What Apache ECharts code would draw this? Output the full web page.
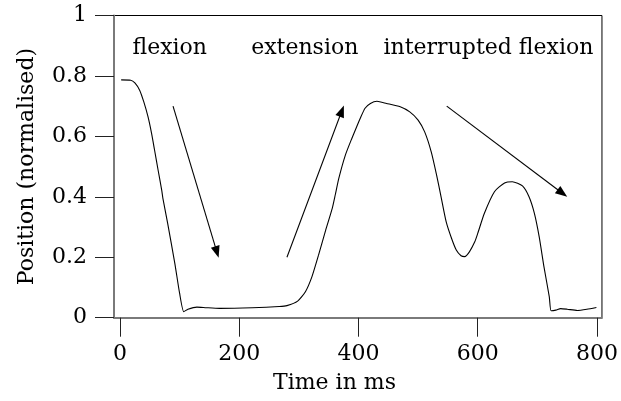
<!DOCTYPE html>
<html>
<head>
<meta charset="utf-8">
<script src="https://cdn.jsdelivr.net/npm/echarts@6/dist/echarts.min.js"></script>
<style>
  html, body { margin: 0; padding: 0; background: #fff; }
  #chart { width: 621px; height: 401px; }
</style>
</head>
<body>
<div id="chart"></div>
<script>
// Joint position trace over one movement cycle
const timeMs = [2, 18, 25, 33, 40, 47, 53, 58, 64, 70, 72, 80, 92, 100, 107, 114, 129, 145, 167, 222, 267,
  280, 298, 311, 322, 333, 345, 356, 361, 367, 378, 389, 397, 403, 411, 420, 431, 447, 470, 486, 500, 511,
  522, 531, 539, 547, 556, 564, 572, 578, 586, 595, 600, 611, 628, 645, 658, 675, 686, 695, 703, 711, 720,
  723, 731, 739, 750, 767, 783, 799];
const position = [0.787, 0.786, 0.777, 0.753, 0.714, 0.665, 0.610, 0.555, 0.488, 0.422, 0.395, 0.312, 0.180,
  0.081, 0.020, 0.028, 0.035, 0.033, 0.031, 0.033, 0.037,
  0.040, 0.055, 0.086, 0.136, 0.207, 0.290, 0.362, 0.406, 0.461, 0.538, 0.594, 0.632, 0.660, 0.693, 0.709,
  0.716, 0.709, 0.698, 0.681, 0.654, 0.615, 0.549, 0.472, 0.395, 0.318, 0.263, 0.224, 0.205, 0.202, 0.218,
  0.251, 0.279, 0.345, 0.417, 0.446, 0.450, 0.436, 0.400, 0.345, 0.268, 0.169, 0.069, 0.023, 0.025, 0.030,
  0.028, 0.024, 0.028, 0.034];

// Axis ticks
const xTicks = [0, 200, 400, 600, 800];
const yTicks = [0, 0.2, 0.4, 0.6, 0.8, 1];

// Phase labels (left edge of text, in data units)
const phaseNames = ['flexion', 'extension', 'interrupted flexion'];
const phaseX = [21, 220, 442];
const phaseY = [0.89, 0.89, 0.89];

// Direction arrows: start point and arrowhead centre, in data units
const arrowFrom = [[89, 0.70], [280, 0.20], [548, 0.70]];
const arrowTo = [[162.6, 0.217], [372, 0.684], [742, 0.412]];

const FONT = 'DejaVu Serif';
const FS = 22;

const chart = echarts.init(document.getElementById('chart'), null, { renderer: 'canvas' });

chart.setOption({
  animation: false,
  backgroundColor: '#fff',
  grid: {
    left: 114, right: 16, top: 15.5, bottom: 83.3,
    show: true, borderColor: '#000', borderWidth: 1, backgroundColor: 'transparent'
  },
  xAxis: {
    type: 'value', min: -10, max: 808.3,
    name: 'Time in ms', nameLocation: 'middle', nameGap: 55,
    nameTextStyle: { fontFamily: FONT, fontSize: FS, color: '#000', padding: [0, 47, 0, 0] },
    axisLine: { show: true, onZero: false, lineStyle: { color: '#7a7a7a', width: 2 } },
    axisTick: { show: true, inside: false, length: 19, customValues: xTicks, lineStyle: { color: '#222', width: 1 } },
    axisLabel: { customValues: xTicks, margin: 26, fontFamily: FONT, fontSize: FS, color: '#000' },
    splitLine: { show: false }
  },
  yAxis: {
    type: 'value', min: 0, max: 1,
    name: 'Position (normalised)', nameLocation: 'middle', nameGap: 76,
    nameTextStyle: { fontFamily: FONT, fontSize: FS, color: '#000' },
    axisLine: { show: true, onZero: false, lineStyle: { color: '#7a7a7a', width: 2 } },
    axisTick: { show: true, inside: false, length: 19, customValues: yTicks, lineStyle: { color: '#222', width: 1 } },
    axisLabel: { customValues: yTicks, margin: 27, fontFamily: FONT, fontSize: FS, color: '#000' },
    splitLine: { show: false }
  },
  series: [
    {
      type: 'line',
      data: timeMs.map((t, i) => [t, position[i]]),
      showSymbol: false,
      smooth: 0.2,
      lineStyle: { color: '#000', width: 1.1 },
      silent: true,
      markLine: {
        silent: true,
        symbol: ['none', 'path://M4.5 0 L9 12 L0 12 Z'],
        symbolKeepAspect: true,
        symbolSize: 12,
        lineStyle: { color: '#000', width: 1.1, type: 'solid' },
        itemStyle: { color: '#000' },
        label: { show: false },
        emphasis: { disabled: true },
        data: arrowFrom.map((p, i) => [{ coord: p }, { coord: arrowTo[i] }])
      }
    },
    {
      type: 'scatter',
      symbolSize: 0,
      silent: true,
      itemStyle: { opacity: 1, color: '#000' },
      data: phaseNames.map((n, i) => ({ name: n, value: [phaseX[i], phaseY[i]] })),
      label: {
        show: true, position: [0, 0], align: 'left', verticalAlign: 'middle', opacity: 1,
        formatter: p => p.name, fontFamily: FONT, fontSize: FS, color: '#000'
      }
    }
  ]
});
</script>
</body>
</html>
